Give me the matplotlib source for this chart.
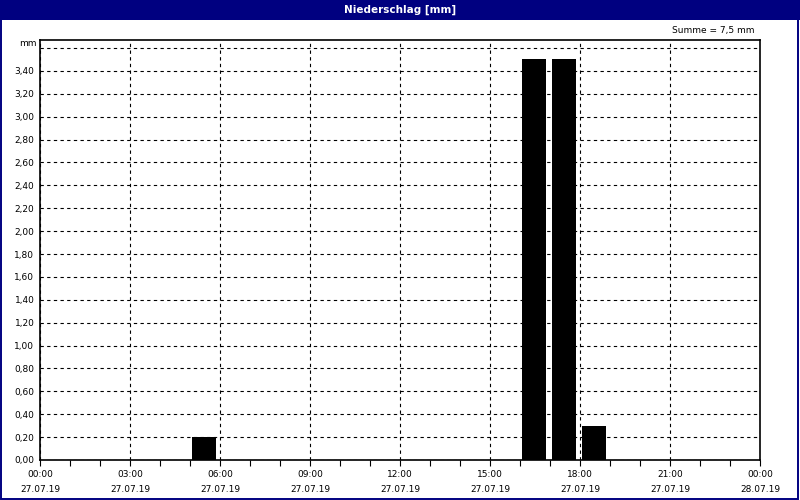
import matplotlib
matplotlib.use("Agg")
import matplotlib.pyplot as plt
from matplotlib.patches import Rectangle

# Stundenwerte Niederschlag (Stundenbeginn, mm)
stunden = [5, 16, 17, 18]
niederschlag = [0.2, 3.5, 3.5, 0.3]

x_ticks = [0, 3, 6, 9, 12, 15, 18, 21, 24]
x_labels = ["00:00\n27.07.19", "03:00\n27.07.19", "06:00\n27.07.19",
            "09:00\n27.07.19", "12:00\n27.07.19", "15:00\n27.07.19",
            "18:00\n27.07.19", "21:00\n27.07.19", "00:00\n28.07.19"]
y_ticks = [i * 0.2 for i in range(19)]
y_labels = [f"{v:.2f}".replace(".", ",") for v in y_ticks[:-1]] + [""]

navy = "#000080"
W, H = 800, 500

fig = plt.figure(figsize=(8, 5), dpi=100)
fig.patch.set_facecolor("white")

# Titelleiste und Rahmen
fig.patches.append(Rectangle((0, 480 / H), 1, 20 / H, transform=fig.transFigure,
                             facecolor=navy, edgecolor="none", zorder=0))
fig.patches.append(Rectangle((1 / W, 1 / H), 797 / W, 498 / H, transform=fig.transFigure,
                             facecolor="none", edgecolor=navy, linewidth=1.4, zorder=5))
fig.text(0.5, 1 - 10 / H, "Niederschlag [mm]", color="white", ha="center", va="center",
         fontsize=7.5, fontweight="bold", family="DejaVu Sans")

ax = fig.add_axes([40 / W, 1 - 460 / H, 720 / W, 420 / H])
ax.bar([h + 0.067 for h in stunden], niederschlag, width=0.8, align="edge",
       color="black", edgecolor="none", zorder=3)

ax.set_xlim(0, 24)
ax.set_ylim(0, 3.67)
ax.set_xticks(x_ticks)
ax.set_xticklabels(x_labels, fontsize=6.5, linespacing=1.95)
ax.set_xticks(range(25), minor=True)
ax.set_yticks(y_ticks)
ax.set_yticklabels(y_labels, fontsize=6.5)
ax.tick_params(axis="x", which="both", length=4, width=0.8, direction="out", pad=3)
ax.tick_params(axis="y", length=0, pad=4)

ax.grid(True, which="major", color="black", linestyle=(0, (3, 3)), linewidth=0.8, zorder=1)
for s in ax.spines.values():
    s.set_linewidth(1.2)
    s.set_color("black")

ax.text(-0.005, 3.64, "mm", transform=ax.get_yaxis_transform(), ha="right", va="center",
        fontsize=6.5)

summe = sum(niederschlag)
fig.text(755 / W, 1 - 31 / H, f"Summe = {summe:.1f} mm".replace(".", ","),
         ha="right", va="center", fontsize=6.5)

fig.savefig("out.png", dpi=100, facecolor="white")
